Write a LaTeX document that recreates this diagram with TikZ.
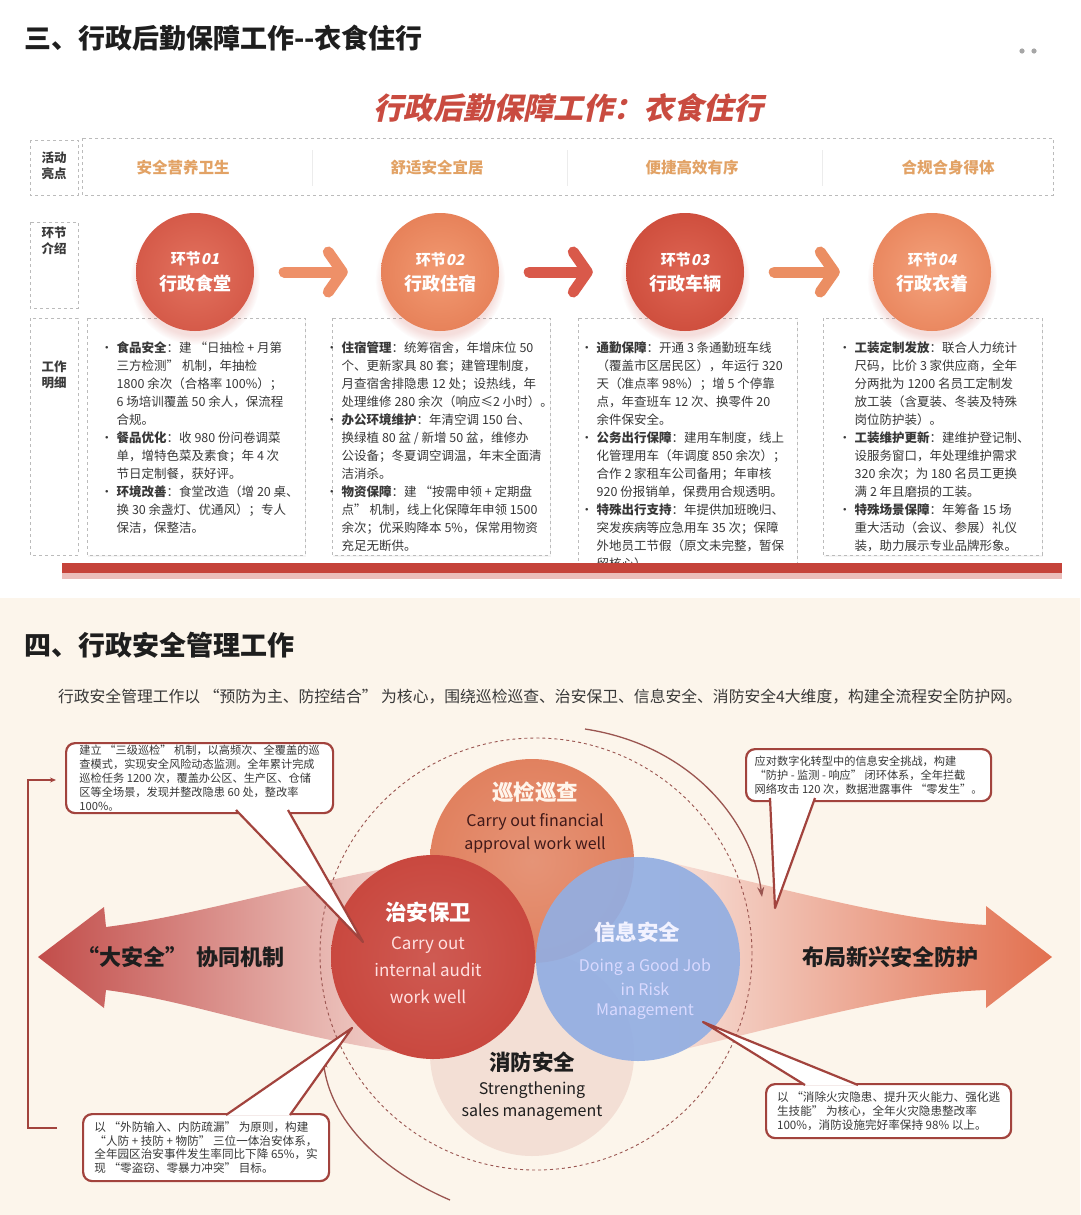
\documentclass[tikz,border=0pt]{standalone}
\usepackage{fontspec}
\setmainfont{Noto Sans CJK SC}
\newfontfamily\slantfont{Noto Sans CJK SC}[FakeSlant=0.22]
\usetikzlibrary{arrows.meta,positioning,shadows}

\definecolor{titleblack}{HTML}{1E1E1E}
\definecolor{subred}{HTML}{C94B40}
\definecolor{gold}{HTML}{E2A265}
\definecolor{labeltext}{HTML}{3A3A3A}
\definecolor{dashgray}{HTML}{BBBBBB}
\definecolor{bodytext}{HTML}{383838}
\definecolor{barred}{HTML}{C5433A}
\definecolor{cream}{HTML}{FCF5EB}
\definecolor{calloutred}{HTML}{A2433D}
\definecolor{arcgray}{HTML}{9A5550}
\definecolor{stageinA}{HTML}{E3735F}
\definecolor{stageoutA}{HTML}{D55A49}
\definecolor{stageinB}{HTML}{F29A72}
\definecolor{stageoutB}{HTML}{E7825A}
\definecolor{stageinC}{HTML}{DE6553}
\definecolor{stageoutC}{HTML}{CF4F3E}
\definecolor{stageinD}{HTML}{F4A27C}
\definecolor{stageoutD}{HTML}{EA8860}
\definecolor{flowA}{HTML}{EE9068}
\definecolor{flowB}{HTML}{D9594A}
\definecolor{flowC}{HTML}{EB8E62}
\definecolor{vennorange}{HTML}{E1815F}
\definecolor{vennred}{HTML}{C9483F}
\definecolor{vennblue}{HTML}{93AEE2}
\definecolor{vennpink}{HTML}{F3DDD3}
\definecolor{arrowdark}{HTML}{C24D4A}
\definecolor{arrowlight}{HTML}{F7E1DA}
\definecolor{rightdark}{HTML}{E2704F}

\tikzset{
  rowbox/.style={draw=dashgray, dashed, line width=0.8pt},
  rowlabel/.style={font=\fontsize{12.5}{16}\selectfont\bfseries, text=labeltext, align=center},
  highlight/.style={font=\fontsize{15.5}{18}\selectfont\bfseries, text=gold},
  detailbox/.style={draw=dashgray, dashed, line width=0.8pt, fill=white,
    drop shadow={opacity=0.08, shadow xshift=1pt, shadow yshift=-2pt}},
  detail/.style={font=\fontsize{12.5}{18}\selectfont, text=bodytext, anchor=north west},
  stage/.style={circle, minimum size=118pt, text=white, align=center,
    circular drop shadow={opacity=0.18, shadow xshift=0pt, shadow yshift=-7pt, fill=subred}},
  flow/.style={line width=11pt, line cap=round,
    -{Straight Barb[length=14pt, width=40pt, line width=11pt, round]},
    shorten <=30pt, shorten >=33pt},
  venn/.style={circle, minimum size=204pt},
  venntitle/.style={font=\fontsize{21.5}{24}\selectfont\bfseries},
  vennsub/.style={font=\fontsize{16}{19}\selectfont},
  callout/.style={draw=calloutred, line width=2.2pt, rounded corners=9pt, fill=white,
    align=left, font=\fontsize{11.2}{13.8}\selectfont, text=bodytext, anchor=north west},
  pointer/.style={draw=calloutred, line width=2.2pt, line join=round},
  bracket/.style={draw=calloutred, line width=1.3pt, -{Stealth[length=6pt, width=5pt]}},
  ring/.style={draw=arcgray, line width=1.3pt, -{Stealth[length=10pt, width=7pt]}},
  bigtext/.style={font=\fontsize{22}{26}\selectfont\bfseries, text=titleblack}
}

\begin{document}
\begin{tikzpicture}[x=1pt, y=-1pt, every node/.style={inner sep=0pt}]
\useasboundingbox (0,0) rectangle (1080,1215);

% backgrounds
\fill[white] (0,0) rectangle (1080,598);
\fill[cream] (0,598) rectangle (1080,1215);
\fill[gray!70] (1022,51) circle[radius=2.6pt] (1034,51) circle[radius=2.6pt];

% ---------- section 3 ----------
\node[anchor=west, font=\fontsize{27}{30}\selectfont\bfseries, text=titleblack] (title3) at (24,38) {三、行政后勤保障工作-{}-衣食住行};
\node[font=\fontsize{30}{34}\selectfont\slantfont\bfseries, text=subred] (sub3) at (568,108) {行政后勤保障工作：衣食住行};

\draw[rowbox] (30,140) rectangle (78,195);
\draw[rowbox] (30,222) rectangle (78,308);
\draw[rowbox] (30,318) rectangle (78,555);
\node[rowlabel] (lab1) at (54,166) {活动\\亮点};
\node[rowlabel] (lab2) at (54,241) {环节\\介绍};
\node[rowlabel] (lab3) at (54,375) {工作\\明细};

\draw[rowbox] (82,138) rectangle (1053,195);
\foreach \x in {312,567,822}
  \draw[gray!15, line width=1pt] (\x,150) -- (\x,186);
\node[highlight] (h1) at (183,168) {安全营养卫生};
\node[highlight] (h2) at (437,168) {舒适安全宜居};
\node[highlight] (h3) at (692,168) {便捷高效有序};
\node[highlight] (h4) at (948,168) {合规合身得体};

% detail boxes
\draw[detailbox] (87,318) rectangle (305,555);
\draw[detailbox] (332,318) rectangle (550,555);
\draw[detailbox] (578,318) rectangle (797,563);
\draw[detailbox] (823,318) rectangle (1042,555);

\node[detail] (w1) at (100.5,340) {\begin{tabular}{@{}p{16pt}@{}l@{}}
• & \textbf{食品安全}：建 “日抽检 + 月第\\
  & 三方检测” 机制，年抽检\\
  & 1800 余次（合格率 100\%）；\\
  & 6 场培训覆盖 50 余人，保流程\\
  & 合规。\\
• & \textbf{餐品优化}：收 980 份问卷调菜\\
  & 单，增特色菜及素食；年 4 次\\
  & 节日定制餐，获好评。\\
• & \textbf{环境改善}：食堂改造（增 20 桌、\\
  & 换 30 余盏灯、优通风）；专人\\
  & 保洁，保整洁。
\end{tabular}};

\node[detail] (w2) at (325.5,340) {\begin{tabular}{@{}p{16pt}@{}l@{}}
• & \textbf{住宿管理}：统筹宿舍，年增床位 50\\
  & 个、更新家具 80 套；建管理制度，\\
  & 月查宿舍排隐患 12 处；设热线，年\\
  & 处理维修 280 余次（响应≤2 小时）。\\
• & \textbf{办公环境维护}：年清空调 150 台、\\
  & 换绿植 80 盆 / 新增 50 盆，维修办\\
  & 公设备；冬夏调空调温，年末全面清\\
  & 洁消杀。\\
• & \textbf{物资保障}：建 “按需申领 + 定期盘\\
  & 点” 机制，线上化保障年申领 1500\\
  & 余次；优采购降本 5\%，保常用物资\\
  & 充足无断供。
\end{tabular}};

\node[detail] (w3) at (580.5,340) {\begin{tabular}{@{}p{16pt}@{}l@{}}
• & \textbf{通勤保障}：开通 3 条通勤班车线\\
  & （覆盖市区居民区），年运行 320\\
  & 天（准点率 98\%）；增 5 个停靠\\
  & 点，年查班车 12 次、换零件 20\\
  & 余件保安全。\\
• & \textbf{公务出行保障}：建用车制度，线上\\
  & 化管理用车（年调度 850 余次）；\\
  & 合作 2 家租车公司备用；年审核\\
  & 920 份报销单，保费用合规透明。\\
• & \textbf{特殊出行支持}：年提供加班晚归、\\
  & 突发疾病等应急用车 35 次；保障\\
  & 外地员工节假（原文未完整，暂保\\
  & 留核心）。
\end{tabular}};

\node[detail] (w4) at (838.5,340) {\begin{tabular}{@{}p{16pt}@{}l@{}}
• & \textbf{工装定制发放}：联合人力统计\\
  & 尺码，比价 3 家供应商，全年\\
  & 分两批为 1200 名员工定制发\\
  & 放工装（含夏装、冬装及特殊\\
  & 岗位防护装）。\\
• & \textbf{工装维护更新}：建维护登记制、\\
  & 设服务窗口，年处理维护需求\\
  & 320 余次；为 180 名员工更换\\
  & 满 2 年且磨损的工装。\\
• & \textbf{特殊场景保障}：年筹备 15 场\\
  & 重大活动（会议、参展）礼仪\\
  & 装，助力展示专业品牌形象。
\end{tabular}};

% base bar
\fill[barred!35] (62,572) rectangle (1062,579);
\fill[barred] (62,563) rectangle (1062,573);

% stages
\node[stage, inner color=stageinA, outer color=stageoutA] (s1) at (195,272) {\fontsize{15}{18}\selectfont\bfseries 环节\slantfont 01\\[7pt]\fontsize{18}{22}\selectfont\bfseries 行政食堂};
\node[stage, inner color=stageinB, outer color=stageoutB] (s2) at (440,272) {\fontsize{15}{18}\selectfont\bfseries 环节\slantfont 02\\[7pt]\fontsize{18}{22}\selectfont\bfseries 行政住宿};
\node[stage, inner color=stageinC, outer color=stageoutC] (s3) at (685,272) {\fontsize{15}{18}\selectfont\bfseries 环节\slantfont 03\\[7pt]\fontsize{18}{22}\selectfont\bfseries 行政车辆};
\node[stage, inner color=stageinD, outer color=stageoutD] (s4) at (932,272) {\fontsize{15}{18}\selectfont\bfseries 环节\slantfont 04\\[7pt]\fontsize{18}{22}\selectfont\bfseries 行政衣着};

\draw[flow, flowA] (s1) -- (s2);
\draw[flow, flowB] (s2) -- (s3);
\draw[flow, flowC] (s3) -- (s4);

% ---------- section 4 ----------
\node[anchor=west, font=\fontsize{27}{30}\selectfont\bfseries, text=titleblack] (title4) at (24,645) {四、行政安全管理工作};
\node[font=\fontsize{15.8}{18}\selectfont, text=bodytext] (intro) at (540,697) {行政安全管理工作以 “预防为主、防控结合” 为核心，围绕巡检巡查、治安保卫、信息安全、消防安全4大维度，构建全流程安全防护网。};

% big arrows
\shade[left color=arrowdark, right color=arrowlight]
  (38,957) -- (104,907) -- (106,927) .. controls (200,915) and (290,885) .. (440,858)
  -- (440,1058) .. controls (290,1040) and (200,1002) .. (106,990) -- (104,1008) -- cycle;
\shade[left color=arrowlight, right color=rightdark]
  (1052,957) -- (986,906) -- (986,925) .. controls (900,920) and (820,898) .. (660,860)
  -- (660,1055) .. controls (820,1017) and (900,993) .. (986,990) -- (986,1008) -- cycle;
\node[bigtext] (leftword) at (181,957) {“大安全”\hspace{10pt}协同机制};
\node[bigtext] (rightword) at (890,957) {布局新兴安全防护};

% rings
\draw[dashed, draw=arcgray, line width=0.9pt] (536,954) circle[radius=216pt];
\draw[ring] (585,729) .. controls (690,745) and (752,820) .. (762,897);
\draw[ring] (450,1200) .. controls (380,1170) and (330,1120) .. (323,1058);

% venn circles
\node[venn, fill=vennpink, fill opacity=0.9] (xf) at (532,1054) {};
\node[venn, inner color=vennorange!85, outer color=vennorange] (xj) at (532,861) {};
\node[venn, inner color=vennred!90, outer color=vennred] (za) at (433,957) {};
\node[venn, fill=vennblue, fill opacity=0.93] (xx) at (638,959) {};

\node[venntitle, text=white!92!orange] (xjt) at (535,792) {巡检巡查};
\node[vennsub, text=titleblack!85!red] (xj1) at (535,822) {Carry out financial};
\node[vennsub, text=titleblack!85!red] (xj2) at (535,845) {approval work well};
\node[venntitle, text=white] (zat) at (428,912) {治安保卫};
\node[vennsub, font=\fontsize{17}{20}\selectfont, text=white!88!red] (za1) at (428,945) {Carry out};
\node[vennsub, font=\fontsize{17}{20}\selectfont, text=white!88!red] (za2) at (428,970) {internal audit};
\node[vennsub, font=\fontsize{17}{20}\selectfont, text=white!88!red] (za3) at (428,997) {work well};
\node[venntitle, text=white!95!blue] (xxt) at (637,932) {信息安全};
\node[vennsub, text=white!85!blue] (xx1) at (645,967) {Doing a Good Job};
\node[vennsub, text=white!85!blue] (xx2) at (645,989) {in Risk};
\node[vennsub, text=white!85!blue] (xx3) at (645,1012) {Management};
\node[venntitle, text=titleblack] (xft) at (532,1062) {消防安全};
\node[vennsub, text=titleblack] (xf1) at (532,1090) {Strengthening};
\node[vennsub, text=titleblack] (xf2) at (532,1112) {sales management};

% callouts
\node[callout, minimum width=267pt, minimum height=70pt] (ca) at (65,742) {建立 “三级巡检” 机制，以高频次、全覆盖的巡\\查模式，实现安全风险动态监测。全年累计完成\\巡检任务 1200 次，覆盖办公区、生产区、仓储\\区等全场景，发现并整改隐患 60 处，整改率\\100\%。};
\node[callout, minimum width=245pt, minimum height=52pt] (cb) at (745,748) {应对数字化转型中的信息安全挑战，构建\\ “防护 - 监测 - 响应” 闭环体系，全年拦截\\网络攻击 120 次，数据泄露事件 “零发生”。};
\node[callout, font=\fontsize{11.6}{13.8}\selectfont, minimum width=246pt, minimum height=67pt] (cc) at (82,1113) {以 “外防输入、内防疏漏” 为原则，构建\\ “人防 + 技防 + 物防” 三位一体治安体系，\\全年园区治安事件发生率同比下降 65\%，实\\现 “零盗窃、零暴力冲突” 目标。};
\node[callout, font=\fontsize{11.6}{13.6}\selectfont, minimum width=245pt, minimum height=54pt] (cd) at (765,1083) {以 “消除火灾隐患、提升灭火能力、强化逃\\生技能” 为核心，全年火灾隐患整改率\\100\%，消防设施完好率保持 98\% 以上。};

% pointers
\coordinate (pa1) at (236,810); \coordinate (pa2) at (288,810); \coordinate (tipa) at (363,942);
\fill[white] (pa1) -- (tipa) -- (pa2) -- cycle;
\draw[pointer] (pa1) -- (tipa) -- (pa2);
\coordinate (pb1) at (770,798); \coordinate (pb2) at (815,798); \coordinate (tipb) at (775,908);
\fill[white] (pb1) -- (tipb) -- (pb2) -- cycle;
\draw[pointer] (pb1) -- (tipb) -- (pb2);
\coordinate (pc1) at (226,1115); \coordinate (pc2) at (290,1115); \coordinate (tipc) at (352,1028);
\fill[white] (pc1) -- (tipc) -- (pc2) -- cycle;
\draw[pointer] (pc1) -- (tipc) -- (pc2);
\coordinate (pd1) at (805,1085); \coordinate (pd2) at (858,1085); \coordinate (tipd) at (703,1022);
\fill[white] (pd1) -- (tipd) -- (pd2) -- cycle;
\draw[pointer] (pd1) -- (tipd) -- (pd2);

% bracket
\coordinate (brka) at (57,1128);
\coordinate (brkb) at (56,780);
\draw[bracket] (brka) -- (28,1128) -- (28,780) -- (brkb);
\end{tikzpicture}
\end{document}
